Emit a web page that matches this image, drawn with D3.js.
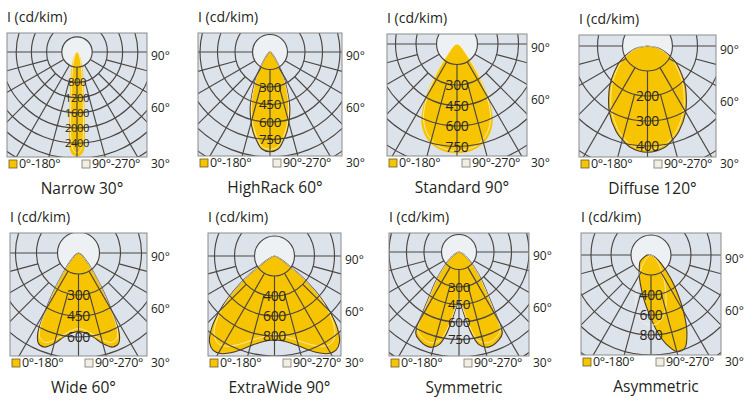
<!DOCTYPE html>
<html><head><meta charset="utf-8">
<script src="https://cdn.jsdelivr.net/npm/d3@7"></script>
<style>
html,body{margin:0;padding:0;background:#fff;}
svg{display:block;font-family:"Open Sans",sans-serif;}
</style>
</head><body>
<svg id="c" width="744" height="401"></svg>
<script>
// ---------- data ----------
const panelNames = ["Narrow 30°","HighRack 60°","Standard 90°","Diffuse 120°","Wide 60°","ExtraWide 90°","Symmetric","Asymmetric"];
const unitLabel = "I (cd/kim)";
const sideAngleLabels = ["90°","60°","30°"];
const legendLabels = ["0°-180°","90°-270°"];

// half-plane gamma angles (deg from nadir), mirrored to both sides
const narrowAngles = [0,2,4,6,8,10,14,20,30,45,60,90];
const narrowC0     = [2750,2720,2600,2000,1400,1050,700,400,200,80,30,0];
const narrowC90    = [2650,2600,2300,1600,1100,800,500,280,130,50,20,0];
const narrowTicks  = [800,1200,1600,2000,2400];

const highrackAngles = [0,5,8,12,16,20,23,27,31,37,45,60,90];
const highrackC0     = [855,832,780,700,600,495,395,285,185,85,35,10,0];
const highrackC90    = [835,810,755,670,570,465,370,265,170,78,30,8,0];
const highrackTicks  = [300,450,600,750];

const standardAngles = [0,5,10,15,20,25,30,35,40,45,55,70,90];
const standardC0     = [800,795,780,750,700,620,470,280,140,80,40,15,0];
const standardC90    = [780,775,760,725,670,580,430,260,130,75,35,12,0];
const standardTicks  = [300,450,600,750];

const diffuseAngles = [0,10,15,20,30,40,45,50,60,70,75,80,90];
const diffuseC0     = [425,410,388,365,305,240,210,180,130,80,60,40,0];
const diffuseC90    = [415,400,378,352,290,225,195,165,118,72,54,36,0];
const diffuseTicks  = [200,300,400];

const wideAngles = [0,5,10,15,20,24,27,30,33,36,40,45,55,70,90];
const wideC0     = [560,575,610,670,715,705,640,470,330,220,140,80,35,10,0];
const wideC90    = [540,555,590,640,680,670,610,450,315,210,130,75,30,8,0];
const wideTicks  = [300,450,600];

const extraAngles = [0,5,10,15,20,25,29,33,37,41,45,48,51,54,57,62,70,80,90];
const extraC0     = [840,850,880,930,1000,1070,1115,1125,1080,960,780,620,450,280,160,80,30,10,0];
const extraC90    = [790,800,830,870,930,990,1030,1040,1000,900,740,590,430,270,150,75,28,9,0];
const extraTicks  = [400,600,800];

const symAngles = [0,3,6,9,12,16,20,24,28,31,34,38,42,48,55,65,75,90];
const symC0     = [415,480,590,720,810,850,850,830,790,600,450,330,240,150,80,30,10,0];
const symC90    = [400,460,560,680,770,810,815,795,755,575,430,315,230,140,75,28,9,0];
const symTicks  = [300,450,600,750];

// asymmetric: full plane, negative = left
const asymAngles = [-90,-75,-60,-45,-30,-20,-10,0,5,10,15,20,25,30,35,40,50,60,75,90];
const asymC0     = [40,65,125,165,235,310,435,635,780,910,1000,990,850,650,455,310,130,50,15,0];
const asymC90Angles = [0,5,10,15,20,25,30,40,50,60,75,90];
const asymC90    = [700,690,640,560,440,330,240,130,70,35,10,0];
const asymTicks  = [400,600,800];

// ---------- layout ----------
const layout = [
  {x:7,   y:33,  w:140, h:124, cy:19, px:15.2, outline:false, fs:11.2},
  {x:198, y:33,  w:144, h:123, cy:19, px:17.5, outline:true,  fs:13.5},
  {x:387, y:34,  w:140, h:122, cy:10, px:20.5, outline:false, fs:14},
  {x:579, y:35,  w:137, h:122, cy:11, px:25,   outline:true,  fs:14},
  {x:10,  y:233, w:137, h:123, cy:20, px:21,   outline:true,  fs:14},
  {x:208, y:233, w:133, h:123, cy:23, px:20,   outline:true,  fs:14},
  {x:389, y:233, w:140, h:123, cy:19, px:17.5, outline:true,  fs:13.5},
  {x:581, y:233, w:140, h:122, cy:22, px:20,   outline:true,  fs:14}
];

function mirror(angles, vals){
  const pts = [];
  for (let i = angles.length-1; i >= 1; i--) pts.push({g:-angles[i], v:vals[i]});
  for (let i = 0; i < angles.length; i++) pts.push({g:angles[i], v:vals[i]});
  return pts;
}
function full(angles, vals){ return angles.map((g,i)=>({g, v:vals[i]})); }

const panels = [
  {c0:mirror(narrowAngles,narrowC0), c90:mirror(narrowAngles,narrowC90), ticks:narrowTicks},
  {c0:mirror(highrackAngles,highrackC0), c90:mirror(highrackAngles,highrackC90), ticks:highrackTicks},
  {c0:mirror(standardAngles,standardC0), c90:mirror(standardAngles,standardC90), ticks:standardTicks},
  {c0:mirror(diffuseAngles,diffuseC0), c90:mirror(diffuseAngles,diffuseC90), ticks:diffuseTicks},
  {c0:mirror(wideAngles,wideC0), c90:mirror(wideAngles,wideC90), ticks:wideTicks},
  {c0:mirror(extraAngles,extraC0), c90:mirror(extraAngles,extraC90), ticks:extraTicks},
  {c0:mirror(symAngles,symC0), c90:mirror(symAngles,symC90), ticks:symTicks},
  {c0:full(asymAngles,asymC0), c90:mirror(asymC90Angles,asymC90), ticks:asymTicks}
];

// ---------- drawing ----------
const svg = d3.select("#c");
const defs = svg.append("defs");
const YELLOW = "#f6c400", GRID = "#4b4642", TEXT = "#231f20";

panels.forEach((p, i) => {
  const L = layout[i];
  const cx = L.x + L.w/2, cy = L.y + L.cy;
  const step = p.ticks[1] - p.ticks[0];
  const r = d3.scaleLinear().domain([0, step]).range([0, L.px]);
  const g = svg.append("g");

  defs.append("clipPath").attr("id","clip"+i)
    .append("rect").attr("x",L.x).attr("y",L.y).attr("width",L.w).attr("height",L.h);

  // title
  g.append("text").attr("x", L.x).attr("y", L.y - 11)
    .attr("font-size", 14).attr("fill", TEXT).text(unitLabel);

  // box background
  g.append("rect").attr("x",L.x).attr("y",L.y).attr("width",L.w).attr("height",L.h)
    .attr("fill","#dde3ea");

  const plot = g.append("g").attr("clip-path","url(#clip"+i+")")
    .append("g").attr("transform",`translate(${cx},${cy})`);

  plot.append("circle").attr("r", r(step)).attr("fill","#eef1f4");

  const line = d3.lineRadial()
    .angle(d => Math.PI - d.g*Math.PI/180)
    .radius(d => r(d.v))
    .curve(d3.curveCatmullRom.alpha(0.5));

  plot.append("path").attr("d", line(p.c0) + "Z")
    .attr("fill", YELLOW)
    .attr("stroke", L.outline ? "#4a3b2c" : "none")
    .attr("stroke-width", 1.1);

  plot.append("path").attr("d", line(p.c90))
    .attr("fill","none").attr("stroke","#fff6dc").attr("stroke-width",1)
    .attr("opacity",0.75);

  // rings
  const maxDist = Math.hypot(L.w/2, Math.max(L.cy, L.h - L.cy)) + L.px;
  const rings = d3.range(step, r.invert(maxDist), step);
  plot.selectAll(null).data(rings).join("circle")
    .attr("r", d => r(d)).attr("fill","none")
    .attr("stroke", GRID).attr("stroke-width", 1.15);

  // radial lines: 30° lines from the inner circle, 15° lines from the second ring
  const angs = d3.range(-90, 91, 15);
  plot.selectAll(null).data(angs).join("line")
    .attr("x1", d => r(step*(d % 30 === 0 ? 1 : 2))*Math.sin(d*Math.PI/180))
    .attr("y1", d => r(step*(d % 30 === 0 ? 1 : 2))*Math.cos(d*Math.PI/180))
    .attr("x2", d => 400*Math.sin(d*Math.PI/180))
    .attr("y2", d => 400*Math.cos(d*Math.PI/180))
    .attr("stroke", GRID).attr("stroke-width", 1.15);

  // ring labels
  plot.selectAll(null).data(p.ticks).join("text")
    .attr("x", 0).attr("y", d => r(d))
    .attr("dy","0.36em").attr("text-anchor","middle")
    .attr("font-size", L.fs).attr("letter-spacing", -0.4).attr("fill", "#2a2622")
    .text(d => d);

  // box border
  g.append("rect").attr("x",L.x).attr("y",L.y).attr("width",L.w).attr("height",L.h)
    .attr("fill","none").attr("stroke","#8c8c8c").attr("stroke-width",1);

  // side angle labels
  const sx = L.x + L.w + 4;
  const sy = [cy + 4, cy + 56, L.y + L.h + 7];
  sideAngleLabels.forEach((t, k) => {
    g.append("text").attr("x", sx).attr("y", sy[k]).attr("dy","0.35em")
      .attr("font-size", 12).attr("fill", TEXT).text(t);
  });

  // legend
  const ly = L.y + L.h + 7;
  g.append("rect").attr("x", L.x + 2).attr("y", ly - 4).attr("width", 8).attr("height", 8)
    .attr("fill", YELLOW).attr("stroke", "#6b5a2e").attr("stroke-width", 0.8);
  g.append("text").attr("x", L.x + 12).attr("y", ly).attr("dy","0.35em")
    .attr("font-size", 12.5).attr("letter-spacing", -0.3).attr("fill", TEXT).text(legendLabels[0]);
  g.append("rect").attr("x", L.x + 75).attr("y", ly - 4).attr("width", 8).attr("height", 8)
    .attr("fill", "#f2eee0").attr("stroke", "#777").attr("stroke-width", 0.8);
  g.append("text").attr("x", L.x + 85).attr("y", ly).attr("dy","0.35em")
    .attr("font-size", 12.5).attr("letter-spacing", -0.3).attr("fill", TEXT).text(legendLabels[1]);

  // panel name
  g.append("text").attr("x", cx + 5).attr("y", L.y + L.h + 37)
    .attr("text-anchor","middle").attr("font-size", 15.5).attr("fill", TEXT)
    .text(panelNames[i]);
});
</script>
</body></html>
